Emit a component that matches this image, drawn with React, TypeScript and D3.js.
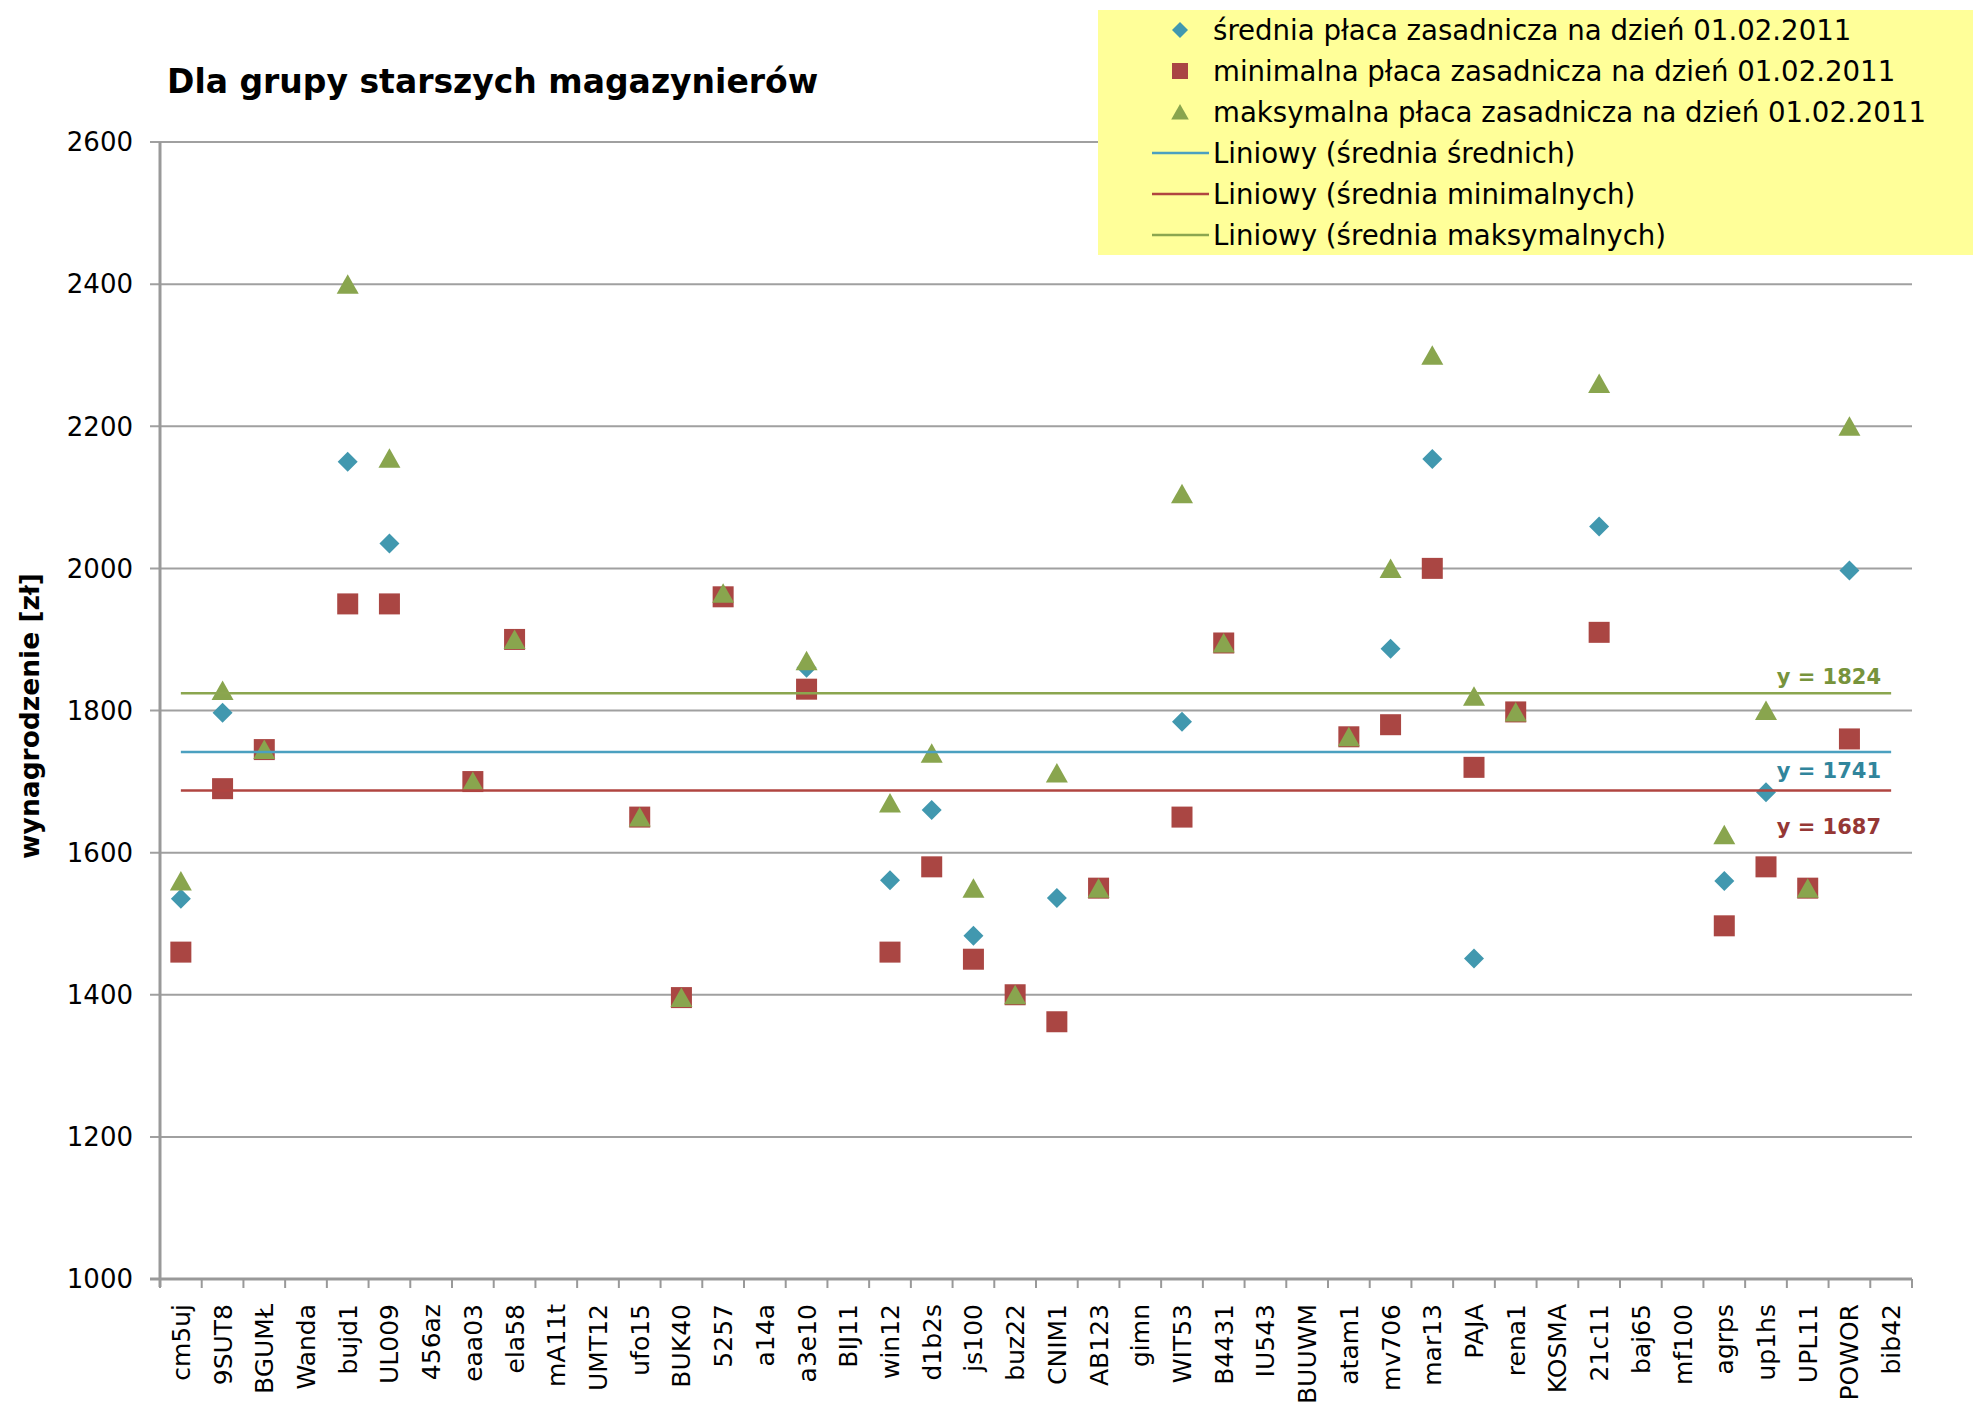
import { useEffect, useRef } from 'react';
import * as d3 from 'd3';

// kody firm (oś X)
const categories = [
  'cm5uj', '9SUT8', 'BGUMŁ', 'Wanda', 'bujd1', 'UL009', '456az', 'eaa03', 'ela58', 'mA11t',
  'UMT12', 'ufo15', 'BUK40', '5257', 'a14a', 'a3e10', 'BIJ11', 'win12', 'd1b2s', 'js100',
  'buz22', 'CNIM1', 'AB123', 'gimn', 'WIT53', 'B4431', 'IU543', 'BUUWM', 'atam1', 'mv706',
  'mar13', 'PAJA', 'rena1', 'KOSMA', '21c11', 'baj65', 'mf100', 'agrps', 'up1hs', 'UPL11',
  'POWOR', 'bib42',
];

const avgValues = [
  1535, 1797, 1745, null, 2150, 2035, null, 1700, 1900, null,
  null, 1650, 1396, 1962, null, 1860, null, 1561, 1660, 1483,
  1400, 1536, 1550, null, 1784, 1895, null, null, 1763, 1887,
  2154, 1451, 1798, null, 2059, null, null, 1560, 1685, 1550,
  1997, null,
];

const minValues = [
  1460, 1690, 1745, null, 1950, 1950, null, 1700, 1900, null,
  null, 1650, 1396, 1960, null, 1830, null, 1460, 1580, 1450,
  1400, 1362, 1550, null, 1650, 1895, null, null, 1763, 1780,
  2000, 1720, 1798, null, 1910, null, null, 1497, 1580, 1550,
  1760, null,
];

const maxValues = [
  1560, 1828, 1745, null, 2400, 2155, null, 1700, 1900, null,
  null, 1650, 1396, 1965, null, 1870, null, 1670, 1740, 1550,
  1400, 1712, 1550, null, 2105, 1895, null, null, 1763, 2000,
  2300, 1820, 1798, null, 2260, null, null, 1625, 1800, 1550,
  2200, null,
];

const yTicks = [1000, 1200, 1400, 1600, 1800, 2000, 2200, 2400, 2600];

const legendLabels = [
  'średnia płaca zasadnicza na dzień 01.02.2011',
  'minimalna płaca zasadnicza na dzień 01.02.2011',
  'maksymalna płaca zasadnicza na dzień 01.02.2011',
  'Liniowy (średnia średnich)',
  'Liniowy (średnia minimalnych)',
  'Liniowy (średnia maksymalnych)',
];

const FONT = '"DejaVu Sans", Verdana, sans-serif';
const C_AVG = '#4198AF';
const C_MIN = '#AA4643';
const C_MAX = '#89A54E';

const App = () => {
  const svgRef = useRef<SVGSVGElement>(null);

  useEffect(() => {
    if (!svgRef.current) return;
    const width = 1973;
    const height = 1415;
    const left = 160, right = 1912, top = 142, bottom = 1279;

    const svg = d3.select(svgRef.current)
      .attr('width', width)
      .attr('height', height);
    svg.selectAll('*').remove();

    svg.append('rect').attr('width', width).attr('height', height).attr('fill', '#fff');

    const x = d3.scaleBand().domain(categories).range([left, right]).padding(0);
    const y = d3.scaleLinear().domain([1000, 2600]).range([bottom, top]);
    const cx = (i: number) => (x(categories[i]) as number) + x.bandwidth() / 2;

    // title
    svg.append('text')
      .attr('x', 167).attr('y', 93)
      .style('font-family', FONT).style('font-size', '33px').style('font-weight', 'bold')
      .text('Dla grupy starszych magazynierów');

    // y axis title
    svg.append('text')
      .attr('transform', 'translate(39, 716) rotate(-90)')
      .attr('text-anchor', 'middle')
      .style('font-family', FONT).style('font-size', '26.5px').style('font-weight', 'bold')
      .text('wynagrodzenie [zł]');

    // gridlines + y ticks
    const grid = svg.append('g');
    yTicks.forEach(t => {
      grid.append('line')
        .attr('x1', left - 10).attr('x2', right)
        .attr('y1', y(t)).attr('y2', y(t))
        .attr('stroke', '#a0a0a0').attr('stroke-width', 2);
      grid.append('text')
        .attr('x', 133).attr('y', y(t)).attr('dy', '0.36em')
        .attr('text-anchor', 'end')
        .style('font-family', FONT).style('font-size', '26px')
        .text(t);
    });

    // axes lines
    svg.append('line')
      .attr('x1', left).attr('x2', left).attr('y1', top).attr('y2', bottom + 8)
      .attr('stroke', '#999').attr('stroke-width', 3);
    svg.append('line')
      .attr('x1', left - 10).attr('x2', right).attr('y1', bottom).attr('y2', bottom)
      .attr('stroke', '#999').attr('stroke-width', 3);
    d3.range(categories.length + 1).forEach(i => {
      const xx = left + i * x.step();
      svg.append('line')
        .attr('x1', xx).attr('x2', xx).attr('y1', bottom).attr('y2', bottom + 9)
        .attr('stroke', '#999').attr('stroke-width', 2);
    });

    // x labels
    categories.forEach((c, i) => {
      svg.append('text')
        .attr('transform', `translate(${cx(i) + 9}, ${bottom + 25}) rotate(-90)`)
        .attr('text-anchor', 'end')
        .style('font-family', FONT).style('font-size', '25px')
        .text(c);
    });

    // markers
    const marks = svg.append('g');
    const diamond = (px: number, py: number, r = 10.5) =>
      `M${px},${py - r}L${px + r},${py}L${px},${py + r}L${px - r},${py}Z`;
    const triangle = (px: number, py: number, k = 1) =>
      `M${px},${py - 10 * k}L${px + 11 * k},${py + 9.5 * k}L${px - 11 * k},${py + 9.5 * k}Z`;

    avgValues.forEach((v, i) => {
      if (v == null) return;
      marks.append('path').attr('d', diamond(cx(i), y(v), 10)).attr('fill', C_AVG);
    });
    minValues.forEach((v, i) => {
      if (v == null) return;
      marks.append('rect')
        .attr('x', cx(i) - 10.5).attr('y', y(v) - 10.5)
        .attr('width', 21).attr('height', 21)
        .attr('fill', C_MIN);
    });
    maxValues.forEach((v, i) => {
      if (v == null) return;
      marks.append('path').attr('d', triangle(cx(i), y(v))).attr('fill', C_MAX);
    });

    // trend lines (średnie)
    const trends = [
      { values: maxValues, color: '#8BA64F', labelColor: '#77933C', ly: 684 },
      { values: avgValues, color: '#4BA0C0', labelColor: '#31859C', ly: 778 },
      { values: minValues, color: '#B04540', labelColor: '#953735', ly: 834 },
    ];
    trends.forEach(tr => {
      const m = d3.mean(tr.values.filter(v => v != null) as number[]) as number;
      svg.append('line')
        .attr('x1', cx(0)).attr('x2', cx(categories.length - 1))
        .attr('y1', y(m)).attr('y2', y(m))
        .attr('stroke', tr.color).attr('stroke-width', 2.5);
      svg.append('text')
        .attr('x', 1881).attr('y', tr.ly)
        .attr('text-anchor', 'end')
        .attr('fill', tr.labelColor)
        .style('font-family', FONT).style('font-size', '21px').style('font-weight', 'bold')
        .text(`y = ${Math.round(m)}`);
    });

    // legend
    const lg = svg.append('g');
    lg.append('rect')
      .attr('x', 1098).attr('y', 10).attr('width', 875).attr('height', 245)
      .attr('fill', '#FFFF99');
    const legendColors = [C_AVG, C_MIN, C_MAX, '#4BA0C0', '#B04540', '#8BA64F'];
    legendLabels.forEach((label, i) => {
      const ly = 30 + i * 41;
      if (i === 0) lg.append('path').attr('d', diamond(1180, ly, 8)).attr('fill', legendColors[i]);
      else if (i === 1) lg.append('rect').attr('x', 1172).attr('y', ly - 8).attr('width', 16).attr('height', 16).attr('fill', legendColors[i]);
      else if (i === 2) lg.append('path').attr('d', triangle(1180, ly, 0.8)).attr('fill', legendColors[i]);
      else lg.append('line').attr('x1', 1152).attr('x2', 1209).attr('y1', ly).attr('y2', ly)
        .attr('stroke', legendColors[i]).attr('stroke-width', 2.5);
      lg.append('text')
        .attr('x', 1213).attr('y', ly).attr('dy', '0.36em')
        .style('font-family', FONT).style('font-size', '27.6px')
        .text(label);
    });
  }, []);

  return <svg ref={svgRef} style={{ position: 'absolute', left: 0, top: 0 }} />;
};

export default App;
